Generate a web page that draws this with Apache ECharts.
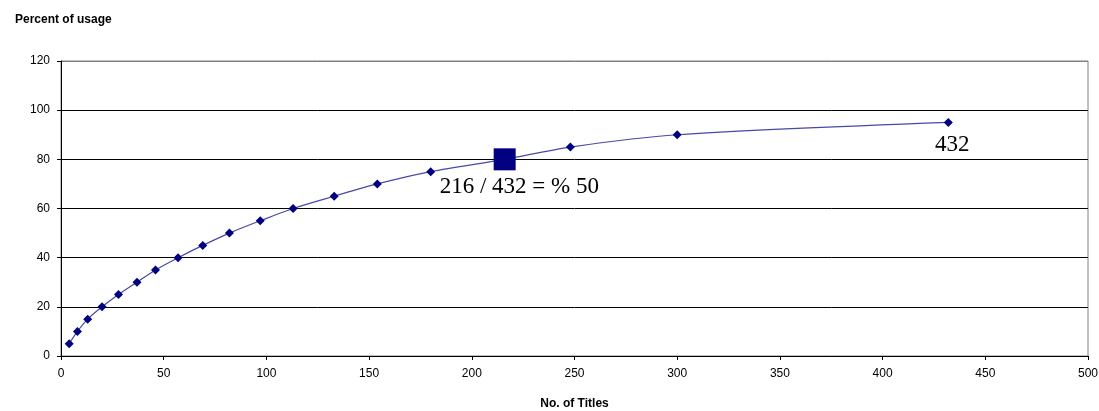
<!DOCTYPE html>
<html>
<head>
<meta charset="utf-8">
<title>Percent of usage</title>
<script src="https://cdn.jsdelivr.net/npm/echarts@6/dist/echarts.min.js"></script>
<style>
  html, body { margin: 0; padding: 0; background: #fff; }
  #chart { width: 1099px; height: 411px; }
</style>
</head>
<body>
<div id="chart"></div>
<script>
// Cumulative usage: number of titles vs. percent of usage
const titles = [4, 8, 13, 20, 28, 37, 46, 57, 69, 82, 97, 113, 133, 154, 180, 216, 248, 300, 432];
const usage  = [5, 10, 15, 20, 25, 30, 35, 40, 45, 50, 55, 60, 65, 70, 75, 80, 85, 90, 95];
const highlightTitles = 216;   // point shown with the large square
const totalTitles = 432;       // last point, labelled with its count
const xTicks = { min: 0, max: 500, interval: 50 };
const yTicks = { min: 0, max: 120, interval: 20 };

const serifLabel = { fontFamily: 'Liberation Serif', fontSize: 23, color: '#000' };

const points = titles.map((t, i) => {
  const item = { value: [t, usage[i]] };
  if (t === highlightTitles) {
    item.symbol = 'rect';
    item.symbolSize = 22;
    item.label = Object.assign({
      show: true,
      formatter: `${t} / ${totalTitles} = % ${Math.round(t / totalTitles * 100)}`,
      position: [-54, 27],
      align: 'left',
      verticalAlign: 'top'
    }, serifLabel);
  } else if (t === totalTitles) {
    item.label = Object.assign({
      show: true,
      formatter: String(t),
      position: 'bottom',
      distance: 6,
      offset: [4, 0]
    }, serifLabel);
  }
  return item;
});

const chart = echarts.init(document.getElementById('chart'), null, { renderer: 'canvas' });
chart.setOption({
  animation: false,
  backgroundColor: '#fff',
  title: {
    text: 'Percent of usage',
    left: 10,
    top: 9,
    textStyle: { fontFamily: 'Liberation Sans', fontSize: 12, fontWeight: 'bold', color: '#000' }
  },
  grid: {
    left: 61, right: 11, top: 61, bottom: 55,
    outerBoundsMode: 'none',
    show: true, borderColor: '#808080', borderWidth: 1
  },
  xAxis: {
    type: 'value',
    min: xTicks.min, max: xTicks.max, interval: xTicks.interval,
    name: 'No. of Titles',
    nameLocation: 'middle',
    nameGap: 42,
    nameTextStyle: { fontFamily: 'Liberation Sans', fontSize: 12, fontWeight: 'bold', color: '#000' },
    axisLine: { show: true, onZero: false, lineStyle: { color: '#000', width: 1 } },
    axisTick: { show: true, length: 4, lineStyle: { color: '#000' } },
    axisLabel: { fontFamily: 'Liberation Sans', fontSize: 12, color: '#000', margin: 12 },
    splitLine: { show: false }
  },
  yAxis: {
    type: 'value',
    min: yTicks.min, max: yTicks.max, interval: yTicks.interval,
    axisLine: { show: true, lineStyle: { color: '#000', width: 1 } },
    axisTick: { show: true, length: 4, lineStyle: { color: '#000' } },
    axisLabel: { fontFamily: 'Liberation Sans', fontSize: 12, color: '#000', margin: 11 },
    splitLine: {
      show: true,
      lineStyle: {
        color: ['#000', '#000', '#000', '#000', '#000', '#000', '#808080'],
        width: 1
      }
    }
  },
  series: [{
    type: 'line',
    data: points,
    smooth: 0.3,
    symbol: 'diamond',
    symbolSize: 9,
    showAllSymbol: true,
    itemStyle: { color: '#000080' },
    lineStyle: { color: '#4848a8', width: 1.2 },
    z: 3
  }]
});
</script>
</body>
</html>
